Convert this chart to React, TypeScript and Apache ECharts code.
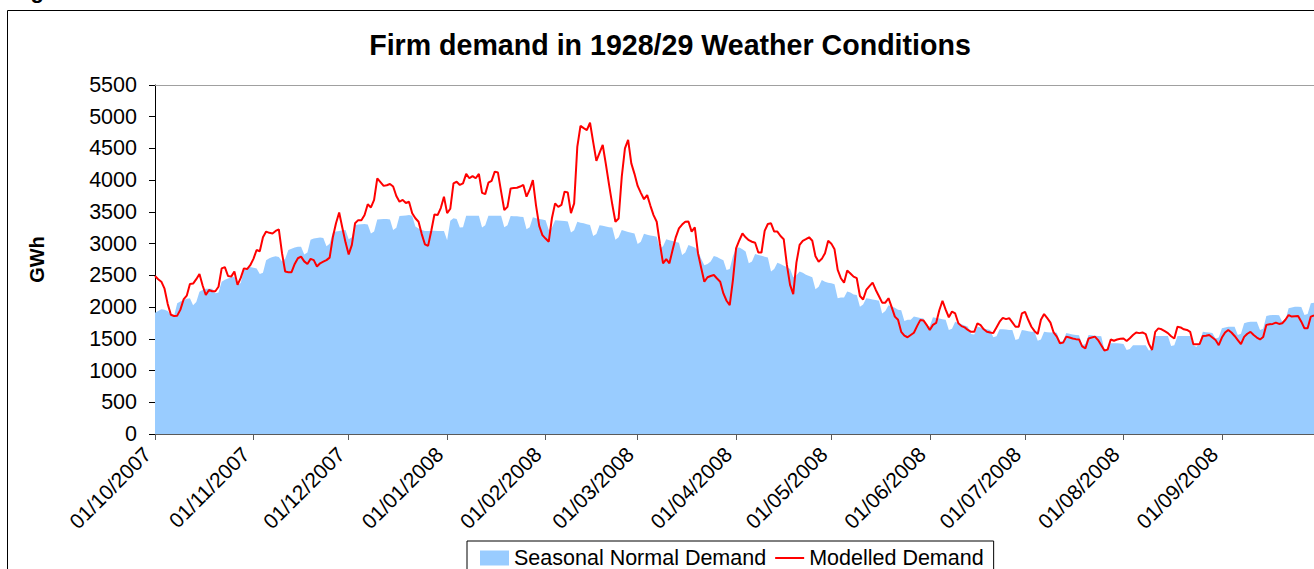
import React, { useEffect, useRef } from "react";
import * as echarts from "echarts";

const chartTitle = "Firm demand in 1928/29 Weather Conditions";
const yAxisTitle = "GWh";
const figureCaption = "Figure";
const normalName = "Seasonal Normal Demand";
const modelledName = "Modelled Demand";
const yTicks = { min: 0, max: 5500, step: 500 };

// Seasonal normal demand (GWh/day), one array per month, 01/10/2007 .. 30/09/2008
const normalOct = [1910,1940,1965,1960,1940,1870,1860, 2060,2090,2110,2130,2140,2030,2080, 2240,2270,2290,2290,2290,2220,2230, 2400,2430,2450,2470,2480,2350,2380, 2585,2610,2630];
const normalNov = [2620,2610,2520,2540, 2740,2770,2790,2800,2790,2720,2760, 2900,2920,2940,2950,2950,2830,2860, 3060,3080,3090,3095,3090,2960,3000, 3170,3190,3200,3210,3215];
const normalDec = [3070,3100, 3295,3300,3305,3310,3300,3160,3190, 3380,3385,3390,3390,3380,3215,3250, 3435,3440,3445,3450,3440,3270,3240, 3215,3200,3200,3205,3205,3200,3200, 3200];
const normalJan = [3055,3360,3400,3390,3255,3260, 3440,3440,3440,3440,3440,3255,3290, 3440,3440,3440,3440,3440,3260,3290, 3435,3430,3430,3425,3420,3225,3260, 3415,3400,3390,3380];
const normalFeb = [3370,3215,3250, 3370,3365,3360,3355,3350,3175,3210, 3345,3330,3320,3305,3295,3120,3150, 3290,3280,3270,3260,3255,3060,3100, 3215,3200,3185,3170,3160];
const normalMar = [2995,3030, 3155,3140,3130,3120,3110,2925,2960, 3070,3055,3040,3025,3015,2820,2860, 2980,2960,2940,2890,2760,2660,2680, 2720,2805,2790,2760,2740,2585,2600, 2800];
const normalApr = [2930,2940,2910,2875,2690,2720, 2835,2820,2810,2795,2780,2560,2600, 2700,2680,2650,2630,2600,2470,2500, 2560,2540,2510,2490,2470,2280,2320, 2425,2400,2385];
const normalMay = [2375,2360,2140,2150, 2150,2245,2230,2200,2190,2005,2040, 2140,2130,2120,2110,2100,1900,1940, 2030,2010,1990,1960,1950,1780,1800, 1800,1850,1840,1830,1820,1690];
const normalJun = [1700, 1840,1830,1820,1810,1800,1640,1660, 1770,1750,1730,1710,1690,1575,1570, 1690,1680,1660,1650,1640,1525,1540, 1650,1650,1645,1640,1640,1480,1500, 1640];
const normalJul = [1630,1620,1610,1610,1470,1490, 1610,1605,1600,1600,1595,1455,1470, 1590,1580,1570,1560,1555,1400,1420, 1560,1555,1550,1545,1540,1325,1350, 1430,1430,1430,1425];
const normalAug = [1420,1325,1340, 1400,1400,1400,1400,1400,1315,1330, 1545,1545,1545,1545,1545,1385,1400, 1545,1545,1545,1545,1545,1400,1370, 1450,1610,1605,1600,1590,1505,1520];
const normalSep = [1665,1680,1690,1690,1690,1560,1580, 1745,1760,1770,1770,1770,1640,1660, 1860,1870,1875,1875,1870,1770,1790, 1980,1995,2005,2005,2000,1875,1890, 2060,2070];

// Modelled demand (GWh/day)
const modelledOct = [2490,2440,2400,2290,2050,1880,1860,1865,1960,2120,2180,2365,2370,2440,2520,2340,2190,2270,2250,2250,2320,2610,2630,2490,2480,2560,2350,2460,2610,2600,2660];
const modelledNov = [2760,2900,2880,3100,3190,3170,3160,3200,3225,2850,2560,2550,2550,2680,2770,2795,2720,2680,2760,2740,2640,2690,2715,2740,2780,3100,3320,3490,3250,3020];
const modelledDec = [2830,2980,3320,3370,3370,3450,3620,3570,3690,4030,3970,3910,3920,3940,3900,3750,3660,3690,3640,3660,3480,3400,3345,3150,2990,2965,3200,3460,3450,3560,3740];
const modelledJan = [3480,3550,3950,3975,3925,3950,4100,4030,4065,4030,4100,3800,3780,3960,3990,4135,4120,3820,3530,3580,3870,3875,3880,3900,3925,3740,3850,4000,3600,3280,3135];
const modelledFeb = [3080,3030,3400,3635,3580,3610,3820,3805,3480,3635,4530,4855,4820,4790,4905,4600,4305,4430,4555,4250,3925,3620,3345,3395,4055,4500,4635,4265,4100];
const modelledMar = [3910,3800,3700,3765,3600,3450,3345,3000,2690,2755,2690,2900,3100,3240,3300,3345,3350,3190,3255,2850,2620,2400,2470,2490,2505,2450,2400,2215,2100,2030,2425];
const modelledApr = [2925,3050,3160,3100,3055,3030,3015,2860,2860,3200,3310,3320,3190,3190,3120,3070,2665,2350,2205,2700,2980,3045,3070,3100,3045,2800,2715,2760,2850,3045];
const modelledMay = [3000,2910,2585,2455,2385,2575,2530,2480,2455,2175,2120,2270,2330,2385,2270,2170,2070,2070,2140,2000,1850,1800,1610,1550,1525,1560,1595,1700,1795,1790,1720];
const modelledJun = [1640,1720,1750,1950,2100,1960,1840,1930,1900,1745,1700,1680,1640,1610,1610,1745,1715,1650,1610,1600,1590,1680,1770,1830,1810,1825,1760,1690,1690,1900];
const modelledJul = [1925,1800,1690,1620,1575,1800,1890,1825,1755,1600,1535,1430,1440,1535,1520,1505,1495,1490,1380,1350,1505,1520,1535,1480,1400,1315,1330,1490,1470,1490,1500];
const modelledAug = [1505,1465,1510,1560,1600,1590,1600,1575,1420,1325,1610,1665,1650,1620,1590,1540,1505,1690,1680,1650,1640,1610,1415,1415,1420,1545,1550,1560,1520,1480,1400];
const modelledSep = [1520,1600,1640,1600,1545,1480,1415,1530,1580,1610,1560,1520,1490,1530,1720,1730,1735,1755,1735,1745,1800,1875,1850,1855,1860,1770,1665,1665,1850,1870];

const normalData = [
  ...normalOct, ...normalNov, ...normalDec, ...normalJan, ...normalFeb, ...normalMar,
  ...normalApr, ...normalMay, ...normalJun, ...normalJul, ...normalAug, ...normalSep,
];
const modelledData = [
  ...modelledOct, ...modelledNov, ...modelledDec, ...modelledJan, ...modelledFeb, ...modelledMar,
  ...modelledApr, ...modelledMay, ...modelledJun, ...modelledJul, ...modelledAug, ...modelledSep,
];

function buildDates(n: number): string[] {
  const out: string[] = [];
  for (let i = 0; i < n; i++) {
    const d = new Date(Date.UTC(2007, 9, 1 + i));
    const dd = String(d.getUTCDate()).padStart(2, "0");
    const mm = String(d.getUTCMonth() + 1).padStart(2, "0");
    out.push(`${dd}/${mm}/${d.getUTCFullYear()}`);
  }
  return out;
}
const dates = buildDates(normalData.length);

const FONT = "'Liberation Sans', Arial, Helvetica, sans-serif";
const isMonthStart = (_i: number, v: string) => v.slice(0, 2) === "01";

export default function App() {
  const ref = useRef<HTMLDivElement>(null);
  useEffect(() => {
    if (!ref.current) return;
    const chart = echarts.init(ref.current, null, { renderer: "svg" });
    chart.setOption({
      animation: false,
      backgroundColor: "#ffffff",
      textStyle: { fontFamily: FONT },
      title: {
        text: chartTitle,
        left: 665,
        top: 25,
        textAlign: "center",
        textStyle: { fontFamily: FONT, fontWeight: "bold", fontSize: 28.6, color: "#000" },
      },
      legend: {
        left: 467,
        top: 541,
        padding: [6, 10, 6, 13],
        borderColor: "#000",
        borderWidth: 1,
        itemWidth: 29,
        itemHeight: 15,
        itemGap: 9,
        textStyle: { fontFamily: FONT, fontSize: 21.5, color: "#000" },
        data: [
          { name: normalName, icon: "rect" },
          { name: modelledName, icon: "path://M0,0 L29,0 L29,2 L0,2 Z" },
        ],
      },
      grid: { left: 155, top: 85, width: 1161, height: 349 },
      xAxis: [
        {
          type: "category",
          data: dates,
          boundaryGap: false,
          axisLine: { lineStyle: { color: "#5a5a5a", width: 1 } },
          axisTick: { show: true, interval: isMonthStart, length: 6, lineStyle: { color: "#5a5a5a" } },
          axisLabel: {
            interval: isMonthStart,
            rotate: 45,
            margin: 9,
            padding: [0, 11, 0, 0],
            fontFamily: FONT,
            fontSize: 21,
            color: "#000",
          },
          splitLine: { show: false },
        },
        {
          type: "category",
          data: dates,
          boundaryGap: false,
          position: "top",
          axisLine: { lineStyle: { color: "#a0a0a0", width: 1 } },
          axisTick: { show: false },
          axisLabel: { show: false },
        },
      ],
      yAxis: {
        type: "value",
        min: yTicks.min,
        max: yTicks.max,
        interval: yTicks.step,
        name: yAxisTitle,
        nameLocation: "middle",
        nameRotate: 90,
        nameGap: 108,
        nameTextStyle: { fontFamily: FONT, fontWeight: "bold", fontSize: 20, color: "#000" },
        axisLine: { show: true, lineStyle: { color: "#000", width: 1 } },
        axisTick: { show: true, length: 6, lineStyle: { color: "#000" } },
        axisLabel: {
          margin: 18,
          fontFamily: FONT,
          fontSize: 21.5,
          color: "#000",
          formatter: (v: number) => String(v),
        },
        splitLine: { show: false },
      },
      series: [
        {
          name: normalName,
          type: "line",
          data: normalData,
          symbol: "none",
          color: "#99CCFF",
          lineStyle: { width: 0, color: "#99CCFF" },
          areaStyle: { color: "#99CCFF", opacity: 1 },
          z: 1,
        },
        {
          name: modelledName,
          type: "line",
          data: modelledData,
          symbol: "none",
          color: "#FF0000",
          lineStyle: { width: 2, color: "#FF0000" },
          z: 2,
        },
      ],
      graphic: [
        {
          type: "rect",
          shape: { x: 7.5, y: 10.5, width: 1400, height: 700 },
          style: { fill: "none", stroke: "#000", lineWidth: 1 },
          silent: true,
        },
        {
          type: "text",
          x: 11,
          y: -10,
          style: { text: figureCaption, font: `bold 22px ${FONT}`, fill: "#000", verticalAlign: "middle" },
          silent: true,
        },
      ],
    });
    return () => chart.dispose();
  }, []);
  return (
    <div
      ref={ref}
      style={{ position: "absolute", left: 0, top: 0, width: 1314, height: 569, background: "#fff" }}
    />
  );
}
